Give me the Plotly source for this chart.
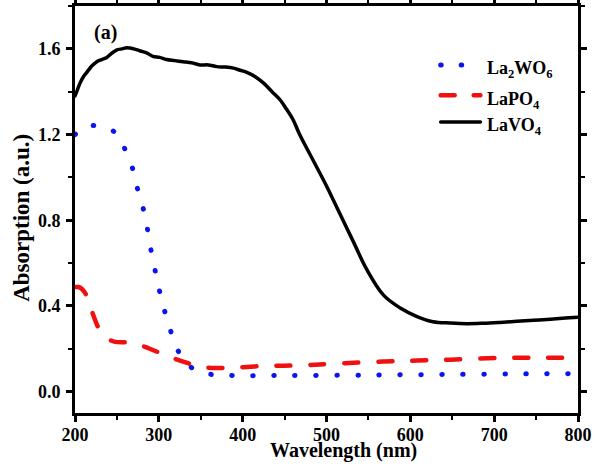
import plotly.graph_objects as go

# LaVO4 (black solid)
vo4_x = [200, 203, 206, 210, 214, 220, 226, 232, 238, 244, 250, 256, 262, 270, 278, 286, 293, 301, 309, 319,
         329, 339, 349, 359, 369, 379, 389, 397, 405, 415, 425, 435, 445, 452, 460, 468, 484, 500, 516, 532,
         548, 568, 588, 608, 627, 648, 667, 687, 707, 727, 747, 767, 785, 800]
vo4_y = [1.38, 1.41, 1.44, 1.47, 1.49, 1.52, 1.54, 1.55, 1.56, 1.58, 1.595, 1.60, 1.605, 1.60, 1.59, 1.58, 1.565, 1.56, 1.55, 1.545,
         1.54, 1.535, 1.525, 1.525, 1.517, 1.515, 1.51, 1.50, 1.49, 1.47, 1.44, 1.40, 1.36, 1.32, 1.27, 1.20, 1.08, 0.96, 0.83, 0.70,
         0.57, 0.45, 0.39, 0.35, 0.326, 0.32, 0.317, 0.319, 0.323, 0.328, 0.333, 0.338, 0.343, 0.347]

# La2WO6 (blue dotted)
wo6_x = [200, 210, 218, 230, 243, 252, 258, 268, 274, 281, 286, 290, 295, 300, 306, 313, 321, 330, 339, 350,
         363, 388, 450, 550, 650, 750, 800]
wo6_y = [1.20, 1.23, 1.242, 1.237, 1.223, 1.19, 1.145, 1.05, 0.955, 0.86, 0.767, 0.674, 0.577, 0.484, 0.39, 0.297, 0.205, 0.15, 0.112, 0.09,
         0.08, 0.075, 0.075, 0.077, 0.08, 0.083, 0.084]

# LaPO4 (red dashed)
po4_x = [200, 204, 208, 214, 222, 230, 240, 248, 269, 289, 309, 329, 349, 369, 389, 429, 468, 508, 568, 608,
         648, 707, 760, 800]
po4_y = [0.488, 0.488, 0.48, 0.447, 0.355, 0.284, 0.245, 0.232, 0.228, 0.20, 0.168, 0.14, 0.116, 0.11, 0.112, 0.12, 0.122, 0.13, 0.14, 0.145,
         0.149, 0.157, 0.158, 0.158]

names = ["La<sub>2</sub>WO<sub>6</sub>", "LaPO<sub>4</sub>", "LaVO<sub>4</sub>"]
colors = ["#0a14f0", "#f01010", "black"]
widths = [5, 4.5, 3.5]
dashes = ["0.5px,20.5px", "14px,20px", "solid"]

FONT = "Liberation Serif"

fig = go.Figure()
for xs, ys, name, c, w, d in zip([wo6_x, po4_x, vo4_x], [wo6_y, po4_y, vo4_y], names, colors, widths, dashes):
    fig.add_trace(go.Scatter(x=xs, y=ys, mode="lines", name=name, showlegend=False,
                             line=dict(color=c, width=w, dash=d, shape="spline")))

# hand-made legend (longer line samples than plotly's own)
leg_y = [0.855, 0.781, 0.715]
leg_dash = ["0.5px,20px", "14px,19px", "solid"]
for yy, name, c, w, d in zip(leg_y, names, colors, widths, leg_dash):
    fig.add_shape(type="line", xref="paper", yref="paper", x0=0.727, x1=0.806, y0=yy, y1=yy,
                  line=dict(color=c, width=w, dash=d))
    fig.add_annotation(text=name, xref="paper", yref="paper", x=0.815, y=yy - 0.012, xanchor="left",
                       yanchor="middle", showarrow=False,
                       font=dict(family=FONT, size=18, color="black", weight="bold"))

axis_common = dict(
    showline=True, linewidth=3, linecolor="black", mirror="allticks",
    ticks="outside", ticklen=6, tickwidth=2.5, tickcolor="black",
    showgrid=False, zeroline=False,
    tickfont=dict(family=FONT, size=18, color="black", weight="bold"),
    minor=dict(ticks="outside", ticklen=4, tickwidth=2, tickcolor="black", showgrid=False),
)

fig.update_xaxes(range=[200, 800], dtick=100, tick0=0, minor_dtick=50, ticklabelstandoff=-3, **axis_common)
fig.update_yaxes(range=[-0.1, 1.8], dtick=0.4, tick0=0, minor_dtick=0.2, tickformat=".1f",
                 ticklabelstandoff=2, **axis_common)

fig.add_annotation(text="Wavelength (nm)", xref="paper", yref="paper", x=0.533, y=-0.092,
                   xanchor="center", yanchor="middle", showarrow=False,
                   font=dict(family=FONT, size=20, color="black", weight="bold"))
fig.add_annotation(text="Absorption (a.u.)", xref="paper", yref="paper", x=-0.107, y=0.48,
                   xanchor="center", yanchor="middle", showarrow=False, textangle=-90,
                   font=dict(family=FONT, size=23, color="black", weight="bold"))
fig.add_annotation(text="(a)", xref="paper", yref="paper", x=0.034, y=0.934, xanchor="left", yanchor="middle",
                   showarrow=False, font=dict(family=FONT, size=20, color="black", weight="bold"))

fig.update_layout(
    width=595, height=470,
    margin=dict(l=75, r=17, t=6, b=57, autoexpand=False),
    plot_bgcolor="white", paper_bgcolor="white",
    showlegend=False,
)

# round line ends so the dotted / dashed lines look like the original
post = (
    "document.body.style.margin='0px';"
    "document.querySelectorAll('.scatterlayer path.js-line, .shapelayer path')"
    ".forEach(function(p){p.style.strokeLinecap='round';});"
)
fig.write_html("out.html", post_script=post, config={"displayModeBar": False})
